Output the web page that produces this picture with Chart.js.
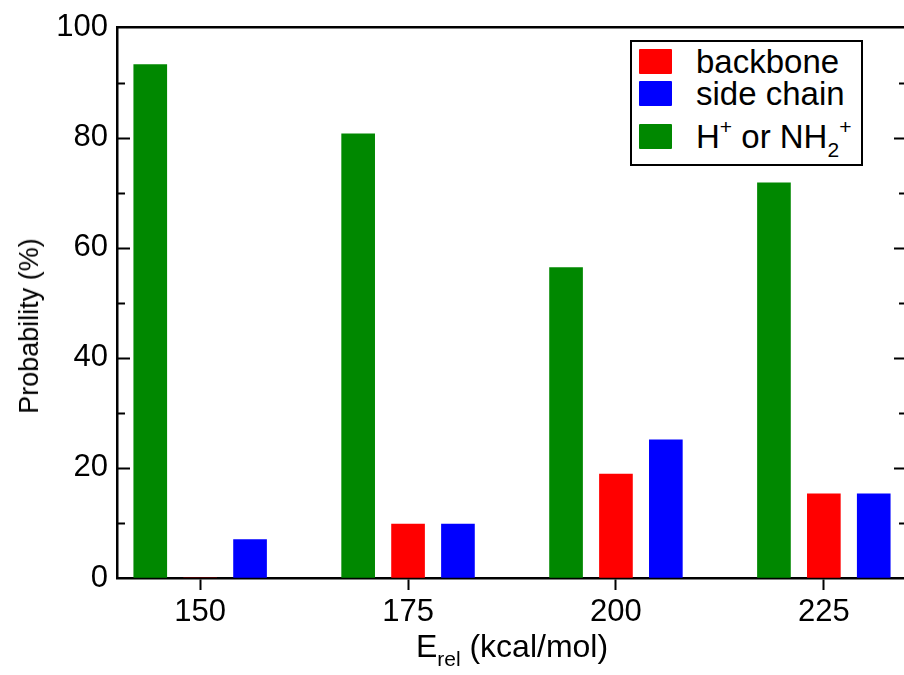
<!DOCTYPE html>
<html>
<head>
<meta charset="utf-8">
<script src="https://cdn.jsdelivr.net/npm/chart.js@4"></script>
<style>
  html, body { margin: 0; padding: 0; background: #fff; overflow: hidden; }
  body { width: 904px; height: 675px; position: relative; font-family: "Liberation Sans", Arial, sans-serif; }
  #wrap { position: absolute; left: 0; top: 0; width: 910px; height: 675px; }
  #legend { position: absolute; left: 630px; top: 40px; width: 233px; height: 126px;
            border: 2px solid #000; box-sizing: border-box; background: #fff; }
  .row { position: absolute; left: 7px; height: 25px; line-height: 25px; font-size: 33px; white-space: nowrap; }
  .sw { display: inline-block; width: 33px; height: 25px; vertical-align: top; border-radius: 1px; }
  .lbl { position: absolute; left: 57px; top: 0; }
  .sup { font-size: 21px; position: relative; top: -14px; }
  .sub { font-size: 21px; position: relative; top: 9px; }
  #xtitle { position: absolute; left: 312px; width: 400px; top: 631px; text-align: center;
            font-size: 32px; line-height: 30px; white-space: nowrap; }
  #ytitle { position: absolute; left: 29px; top: 326px; width: 0; height: 0; }
  #ytitle span { position: absolute; left: 0; top: 0; transform: translate(-50%, -50%) rotate(-90deg);
                 font-size: 27px; line-height: 30px; white-space: nowrap; }
</style>
</head>
<body>
<div id="wrap"><canvas id="chart"></canvas></div>
<div id="legend"></div>
<div id="xtitle">E<span class="sub">rel</span> (kcal/mol)</div>
<div id="ytitle"><span>Probability (%)</span></div>
<script>
// data
var energies = [150, 175, 200, 225];
var backbone = [0, 9.8, 18.9, 15.3];
var side_chain = [7.0, 9.8, 25.1, 15.3];
var proton_loss = [93.3, 80.7, 56.4, 71.8];

var series_labels = ["backbone", "side chain", "H+ or NH2+"];
var series_html = ["backbone", "side chain",
  'H<span class="sup">+</span> or NH<span class="sub">2</span><span class="sup">+</span>'];
var series_colors = ["#ff0000", "#0000ff", "#008800"];
var series_offsets = [0, 6, -6];   // bar position relative to the energy
var series_values = [backbone, side_chain, proton_loss];

var y_ticks = [0, 20, 40, 60, 80, 100];

function points(vals, off) {
	return energies.map(function(e, i) { return { x: e + off, y: vals[i] }; });
}

var datasets = series_values.map(function(vals, k) {
	return {
		label: series_labels[k],
		data: points(vals, series_offsets[k]),
		backgroundColor: series_colors[k],
		borderWidth: 0,
		barThickness: 33,
		grouped: false
	};
});

// legend box
var legend = document.getElementById("legend");
var row_tops = [7, 39, 82];
series_html.forEach(function(h, k) {
	var row = document.createElement("div");
	row.className = "row";
	row.style.top = row_tops[k] + "px";
	row.innerHTML = '<span class="sw" style="background:' + series_colors[k] + '"></span>' +
		'<span class="lbl">' + h + '</span>';
	legend.appendChild(row);
});

// inward y ticks on both sides
var tickPlugin = {
	id: "inTicks",
	afterDraw: function(chart) {
		var ctx = chart.ctx, y = chart.scales.y, a = chart.chartArea;
		ctx.save();
		ctx.strokeStyle = "#000";
		ctx.lineWidth = 2;
		for (var v = 10; v < 100; v += 10) {
			var len = (v % 20 === 0) ? 13 : 8;
			var py = Math.round(y.getPixelForValue(v)) + 0.5;
			ctx.beginPath();
			ctx.moveTo(a.left, py); ctx.lineTo(a.left + len, py);
			ctx.moveTo(a.right, py); ctx.lineTo(a.right - len, py);
			ctx.stroke();
		}
		ctx.restore();
	}
};

var font_tick = { family: "'Liberation Sans', Arial, sans-serif", size: 31 };

var chart = new Chart(document.getElementById("chart"), {
	type: "bar",
	data: { datasets: datasets },
	plugins: [tickPlugin],
	options: {
		responsive: true,
		maintainAspectRatio: false,
		animation: false,
		layout: { padding: 0 },
		plugins: { legend: { display: false }, tooltip: { enabled: false } },
		scales: {
			x: {
				type: "linear", position: "bottom", min: 140, max: 235, offset: false,
				afterBuildTicks: function(s) { s.ticks = energies.map(function(e) { return { value: e }; }); },
				afterFit: function(s) { s.height = 97; },
				grid: { offset: false, drawOnChartArea: false, drawTicks: true, tickLength: 12, tickWidth: 2, tickColor: "#000" },
				border: { color: "#000", width: 2.5 },
				ticks: { color: "#000", font: font_tick, padding: 4, maxRotation: 0 }
			},
			x2: {
				type: "linear", position: "top", min: 140, max: 235, offset: false,
				afterFit: function(s) { s.height = 25; },
				grid: { display: false },
				border: { color: "#000", width: 2.5 },
				ticks: { display: false }
			},
			y: {
				min: 0, max: 100,
				afterBuildTicks: function(s) { s.ticks = y_ticks.map(function(v) { return { value: v }; }); },
				afterFit: function(s) { s.width = 117; },
				grid: { drawOnChartArea: false, drawTicks: false },
				border: { color: "#000", width: 2.5 },
				ticks: { color: "#000", font: font_tick, padding: 9 }
			},
			y2: {
				position: "right", min: 0, max: 100,
				afterFit: function(s) { s.width = 3; },
				grid: { display: false },
				border: { color: "#000", width: 2.5 },
				ticks: { display: false }
			}
		}
	}
});
</script>
</body>
</html>
